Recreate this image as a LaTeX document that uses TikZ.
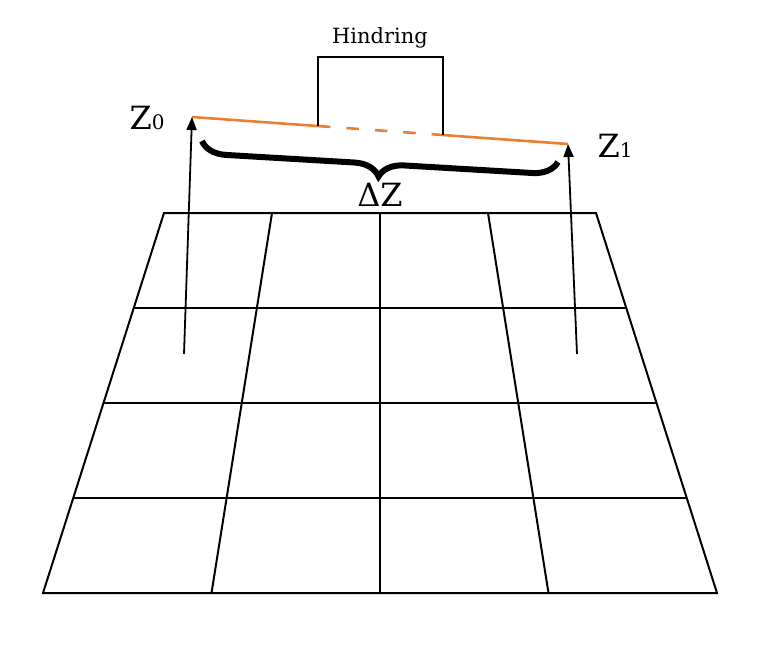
\documentclass[tikz,border=0pt]{standalone}
\usepackage{fontspec}
\setmainfont{DejaVu Serif}
\usetikzlibrary{decorations.pathreplacing,arrows.meta,calc}
\definecolor{zorange}{RGB}{237,125,49}
\tikzset{
  gridline/.style={line width=2pt,black},
  arrowline/.style={line width=1.8pt,-{Triangle[length=13pt,width=10pt]}},
  zline/.style={line width=2.6pt,zorange},
  boxline/.style={line width=2.4pt,black},
  bigtext/.style={font=\fontsize{32}{34}\selectfont,inner sep=0pt},
}
\newcommand{\zsub}[1]{{\fontsize{20}{21}\selectfont #1}}
\begin{document}
\begin{tikzpicture}[x=1pt,y=-1pt]
\useasboundingbox (0,0) rectangle (768,649);
% grid (trapezoid)
\coordinate (tl) at (164,213);
\coordinate (tr) at (596,213);
\coordinate (bl) at (43,593);
\coordinate (br) at (717,593);
\draw[gridline] (tl) -- (tr) -- (br) -- (bl) -- cycle;
\foreach \t in {0.25,0.5,0.75}{
  \draw[gridline] ($(tl)!\t!(bl)$) -- ($(tr)!\t!(br)$);
  \draw[gridline] ($(tl)!\t!(tr)$) -- ($(bl)!\t!(br)$);
}
% orange line with obstacle
\coordinate (z0) at (192,117);
\coordinate (z1) at (568,144);
\coordinate (hl) at ($(z0)!0.335!(z1)$);
\coordinate (hr) at ($(z0)!0.668!(z1)$);
\draw[zline] (z0) -- (hl);
\draw[zline,dash pattern=on 12.5pt off 16pt] (hl) -- (hr);
\draw[zline] (hr) -- (z1);
\draw[boxline] (hl) |- (380,57) -| (hr);
\node[font=\fontsize{21}{23}\selectfont,inner sep=0pt] (hind) at (380,38) {Hindring};
% arrows
\coordinate (a0) at (184,354);
\coordinate (a1) at (577,354);
\draw[arrowline] (a0) -- (z0);
\draw[arrowline] (a1) -- (z1);
% brace
\coordinate (b0) at (202,141);
\coordinate (b1) at (558,162);
\draw[line width=6pt,decorate,decoration={brace,mirror,amplitude=25pt,aspect=0.5}] (b0) -- (b1);
\node[bigtext] (dz) at (380,195) {ΔZ};
\node[bigtext] (lz0) at (147,118) {Z\zsub{0}};
\node[bigtext] (lz1) at (615,146) {Z\zsub{1}};
\end{tikzpicture}
\end{document}
